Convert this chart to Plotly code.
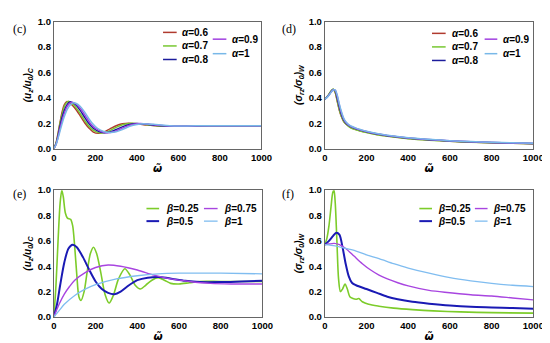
import plotly.graph_objects as go

W, H = 550, 343

# ---------------- data ----------------
alpha_names = ["α=0.6", "α=0.7", "α=0.8", "α=0.9", "α=1"]
alpha_colors = ["#b03a2e", "#78c832", "#1c1c9c", "#a040e0", "#78b8e8"]

# panel (c): (u_z/u_0)_C
c_x = [
    [0, 10, 20, 30, 40, 50, 62, 75, 90, 110, 130, 150, 170, 190, 215, 240, 270, 300, 330, 360, 400, 450, 500, 560, 620, 700, 800, 900, 1000],
    [0, 10, 20, 30, 40, 50, 60, 68, 80, 95, 115, 135, 155, 175, 200, 228, 255, 285, 315, 345, 378, 420, 470, 520, 580, 650, 750, 1000],
    [0, 10, 20, 30, 40, 55, 65, 76, 90, 105, 125, 145, 165, 190, 215, 242, 270, 300, 335, 365, 398, 440, 490, 540, 600, 680, 800, 1000],
    [0, 10, 20, 30, 45, 60, 72, 84, 100, 115, 135, 155, 175, 200, 228, 256, 285, 315, 350, 385, 415, 460, 510, 560, 620, 700, 800, 1000],
    [0, 10, 20, 35, 50, 65, 80, 92, 108, 125, 145, 165, 185, 210, 240, 270, 300, 330, 365, 400, 432, 480, 530, 580, 640, 720, 850, 1000],
]
c_y = [
    [0, 0.04, 0.12, 0.21, 0.29, 0.345, 0.37, 0.36, 0.34, 0.3, 0.25, 0.2, 0.16, 0.13, 0.12, 0.13, 0.155, 0.18, 0.195, 0.2, 0.195, 0.185, 0.178, 0.175, 0.177, 0.18, 0.18, 0.18, 0.18],
    [0, 0.04, 0.11, 0.2, 0.27, 0.33, 0.36, 0.372, 0.365, 0.345, 0.305, 0.255, 0.205, 0.165, 0.135, 0.122, 0.13, 0.155, 0.178, 0.193, 0.2, 0.193, 0.183, 0.176, 0.175, 0.178, 0.18, 0.18],
    [0, 0.035, 0.1, 0.18, 0.25, 0.32, 0.35, 0.368, 0.362, 0.345, 0.305, 0.255, 0.205, 0.16, 0.135, 0.124, 0.13, 0.15, 0.175, 0.19, 0.198, 0.193, 0.183, 0.177, 0.176, 0.178, 0.18, 0.18],
    [0, 0.03, 0.09, 0.16, 0.25, 0.32, 0.35, 0.364, 0.358, 0.34, 0.3, 0.25, 0.2, 0.16, 0.135, 0.125, 0.13, 0.15, 0.175, 0.192, 0.197, 0.192, 0.183, 0.178, 0.177, 0.179, 0.18, 0.18],
    [0, 0.03, 0.08, 0.17, 0.25, 0.31, 0.345, 0.36, 0.355, 0.335, 0.295, 0.245, 0.2, 0.16, 0.135, 0.127, 0.132, 0.15, 0.175, 0.19, 0.196, 0.191, 0.183, 0.178, 0.178, 0.18, 0.18, 0.18],
]

# panel (d): (sigma_rz/sigma_0)_W
d_x = [0, 10, 20, 30, 40, 50, 60, 70, 80, 90, 100, 120, 150, 200, 250, 300, 400, 500, 600, 700, 800, 900, 1000]
d_y = [
    [0.39, 0.405, 0.425, 0.45, 0.465, 0.44, 0.37, 0.3, 0.25, 0.215, 0.195, 0.17, 0.15, 0.128, 0.11, 0.098, 0.08, 0.068, 0.058, 0.051, 0.046, 0.042, 0.038],
    [0.39, 0.407, 0.43, 0.455, 0.47, 0.445, 0.375, 0.305, 0.252, 0.217, 0.196, 0.168, 0.148, 0.126, 0.108, 0.096, 0.078, 0.066, 0.057, 0.05, 0.045, 0.041, 0.037],
    [0.39, 0.404, 0.424, 0.448, 0.465, 0.455, 0.395, 0.325, 0.268, 0.228, 0.204, 0.176, 0.155, 0.132, 0.114, 0.101, 0.083, 0.07, 0.06, 0.053, 0.047, 0.043, 0.039],
    [0.39, 0.403, 0.422, 0.445, 0.463, 0.46, 0.41, 0.34, 0.28, 0.235, 0.208, 0.179, 0.158, 0.134, 0.116, 0.103, 0.084, 0.071, 0.061, 0.054, 0.048, 0.044, 0.04],
    [0.39, 0.402, 0.42, 0.443, 0.462, 0.462, 0.42, 0.35, 0.29, 0.242, 0.213, 0.182, 0.161, 0.137, 0.118, 0.105, 0.086, 0.073, 0.062, 0.055, 0.049, 0.045, 0.041],
]

beta_names = ["β=0.25", "β=0.5", "β=0.75", "β=1"]
beta_colors = ["#7ccc2a", "#1a1ab4", "#a845e0", "#80bdf0"]
beta_widths = [1.6, 2.0, 1.4, 1.3]

# panel (e): (u_z/u_0)_C
e_x = [
    [0, 10, 20, 30, 38, 45, 55, 65, 80, 90, 100, 110, 120, 130, 145, 160, 175, 190, 205, 225, 245, 265, 285, 310, 340, 365, 390, 415, 440, 470, 500, 530, 560, 600, 650, 700, 800, 1000],
    [0, 15, 30, 50, 70, 90, 110, 140, 170, 200, 230, 260, 290, 320, 360, 400, 450, 510, 570, 630, 700, 800, 900, 1000],
    [0, 25, 50, 75, 100, 150, 200, 260, 320, 400, 480, 560, 650, 750, 850, 1000],
    [0, 25, 50, 100, 150, 200, 300, 400, 500, 600, 800, 1000],
]
e_y = [
    [0, 0.25, 0.6, 0.9, 1.0, 0.95, 0.82, 0.78, 0.77, 0.72, 0.55, 0.33, 0.16, 0.13, 0.2, 0.36, 0.5, 0.55, 0.5, 0.35, 0.18, 0.11, 0.17, 0.3, 0.38, 0.33, 0.25, 0.22, 0.25, 0.29, 0.31, 0.29, 0.265, 0.26, 0.27, 0.28, 0.28, 0.28],
    [0, 0.1, 0.25, 0.43, 0.54, 0.57, 0.55, 0.47, 0.37, 0.28, 0.22, 0.19, 0.18, 0.2, 0.25, 0.29, 0.31, 0.315, 0.3, 0.285, 0.275, 0.275, 0.28, 0.285],
    [0, 0.1, 0.18, 0.24, 0.29, 0.35, 0.39, 0.41, 0.4, 0.37, 0.33, 0.3, 0.28, 0.265, 0.26, 0.26],
    [0, 0.05, 0.1, 0.17, 0.22, 0.255, 0.3, 0.325, 0.34, 0.345, 0.345, 0.34],
]

# panel (f): (sigma_rz/sigma_0)_W
f_x = [
    [0, 10, 20, 30, 38, 44, 50, 58, 66, 75, 85, 97, 108, 120, 135, 150, 163, 180, 210, 260, 330, 420, 520, 650, 800, 1000],
    [0, 20, 40, 55, 70, 85, 100, 115, 130, 150, 200, 250, 300, 350, 420, 500, 600, 700, 800, 900, 1000],
    [0, 20, 45, 70, 100, 140, 180, 220, 260, 300, 350, 400, 450, 500, 575, 700, 800, 900, 1000],
    [0, 50, 100, 150, 200, 260, 330, 400, 500, 600, 700, 800, 900, 1000],
]
f_y = [
    [0.57, 0.62, 0.72, 0.87, 0.98, 1.0, 0.9, 0.6, 0.3, 0.2, 0.22, 0.26, 0.22, 0.16, 0.145, 0.14, 0.145, 0.12, 0.1, 0.085, 0.07, 0.058, 0.048, 0.04, 0.034, 0.03],
    [0.57, 0.6, 0.64, 0.665, 0.65, 0.55, 0.42, 0.32, 0.27, 0.25, 0.22, 0.19, 0.16, 0.14, 0.12, 0.105, 0.09, 0.08, 0.075, 0.07, 0.065],
    [0.57, 0.575, 0.58, 0.57, 0.54, 0.48, 0.42, 0.37, 0.33, 0.3, 0.27, 0.245, 0.225, 0.21, 0.195, 0.175, 0.165, 0.15, 0.135],
    [0.57, 0.56, 0.54, 0.52, 0.49, 0.46, 0.42, 0.385, 0.345, 0.31, 0.285, 0.265, 0.25, 0.24],
]

x_ticks = [0, 200, 400, 600, 800, 1000]
y_ticks = [0.0, 0.2, 0.4, 0.6, 0.8, 1.0]
panel_labels = ["(c)", "(d)", "(e)", "(f)"]
y_titles = [
    "<b><i>(u<sub>z</sub>/u<sub>0</sub>)<sub>C</sub></i></b>",
    "<b><i>(σ<sub>rz</sub>/σ<sub>0</sub>)<sub>W</sub></i></b>",
    "<b><i>(u<sub>z</sub>/u<sub>0</sub>)<sub>C</sub></i></b>",
    "<b><i>(σ<sub>rz</sub>/σ<sub>0</sub>)<sub>W</sub></i></b>",
]
x_title = "<b><i>ω\u0303</i></b>"

# ---------------- layout geometry (pixels) ----------------
# plot frames: (left, right, top, bottom)
frames = [(44, 257, 8, 139), (322, 536, 8, 139), (44, 258, 182, 313), (322, 536, 182, 313)]

def px(x):
    return x / W

def py(y):
    return 1 - y / H

fig = go.Figure()
FONT = "Liberation Sans, Arial, sans-serif"

def add(panel, xs, ys, color, width=1.5):
    ax = "" if panel == 0 else str(panel + 1)
    fig.add_trace(go.Scatter(x=xs, y=ys, mode="lines", line=dict(color=color, width=width, shape="spline", smoothing=0.8),
                             xaxis="x" + ax, yaxis="y" + ax, showlegend=False, hoverinfo="skip"))

for i in range(5):
    add(0, c_x[i], c_y[i], alpha_colors[i], 1.5)
for i in range(5):
    add(1, d_x, d_y[i], alpha_colors[i], 1.5)
for i in range(4):
    add(2, e_x[i], e_y[i], beta_colors[i], beta_widths[i])
for i in range(4):
    add(3, f_x[i], f_y[i], beta_colors[i], beta_widths[i])

layout = dict(width=W, height=H, margin=dict(l=0, r=0, t=0, b=0),
              paper_bgcolor="white", plot_bgcolor="white", showlegend=False)

for k, (l, r, t, b) in enumerate(frames):
    sfx = "" if k == 0 else str(k + 1)
    common = dict(showline=True, mirror=True, linecolor="#666666", linewidth=1, showgrid=False, zeroline=False,
                  ticks="", tickfont=dict(family=FONT, size=9.5, color="black", weight="bold"))
    layout["xaxis" + sfx] = dict(domain=[px(l), px(r)], range=[0, 1000], tickvals=x_ticks,
                                 anchor="y" + sfx, ticklabelstandoff=0,
                                 title=dict(text=x_title, font=dict(family="DejaVu Sans, sans-serif", size=10.5, color="black"), standoff=2),
                                 **common)
    layout["yaxis" + sfx] = dict(domain=[py(b), py(t)], range=[0, 1.0], tickvals=y_ticks, tickformat=".1f",
                                 anchor="x" + sfx,
                                 title=dict(text=y_titles[k], font=dict(family=FONT, size=10, color="black"), standoff=4),
                                 **common)

annotations = []
shapes = []
label_pos = [(9, 16), (285, 16), (9, 186), (284, 186)]
for k, (lx, ly) in enumerate(label_pos):
    annotations.append(dict(x=px(lx), y=py(ly), xref="paper", yref="paper", text=panel_labels[k], showarrow=False,
                            font=dict(family="Liberation Serif, Times New Roman, serif", size=12, color="black"),
                            xanchor="center", yanchor="middle"))

def legend_entry(x0, x1, tx, y, color, name, width=1.5):
    shapes.append(dict(type="line", xref="paper", yref="paper", x0=px(x0), x1=px(x1), y0=py(y), y1=py(y),
                       line=dict(color=color, width=width)))
    sym, val = name.split("=")
    annotations.append(dict(x=px(tx), y=py(y), xref="paper", yref="paper",
                            text="<b><i>" + sym + "</i>=" + val + "</b>", showarrow=False,
                            font=dict(family=FONT, size=10, color="black"), xanchor="left", yanchor="middle"))

# panel legends (pixel positions of line start, line end, text start, row y)
c_pos = [(156, 170, 173, 19), (156, 170, 173, 33), (156, 170, 173, 47), (207, 221, 225, 26), (207, 221, 225, 41)]
d_pos = [(432, 446, 450, 20), (432, 446, 450, 34), (432, 446, 450, 48), (486, 499, 503, 26), (486, 499, 503, 41)]
for i in range(5):
    legend_entry(*c_pos[i][:3], c_pos[i][3], alpha_colors[i], alpha_names[i])
    legend_entry(*d_pos[i][:3], d_pos[i][3], alpha_colors[i], alpha_names[i])
e_pos = [(139, 152, 157, 201), (139, 152, 157, 214), (198, 212, 216, 201), (198, 212, 216, 214)]
f_pos = [(419, 432, 436, 201), (419, 432, 436, 214), (476, 489, 493, 201), (476, 489, 493, 214)]
for i in range(4):
    legend_entry(*e_pos[i][:3], e_pos[i][3], beta_colors[i], beta_names[i], beta_widths[i])
    legend_entry(*f_pos[i][:3], f_pos[i][3], beta_colors[i], beta_names[i], beta_widths[i])

layout["annotations"] = annotations
layout["shapes"] = shapes
fig.update_layout(**layout)
fig.write_html("out.html")
